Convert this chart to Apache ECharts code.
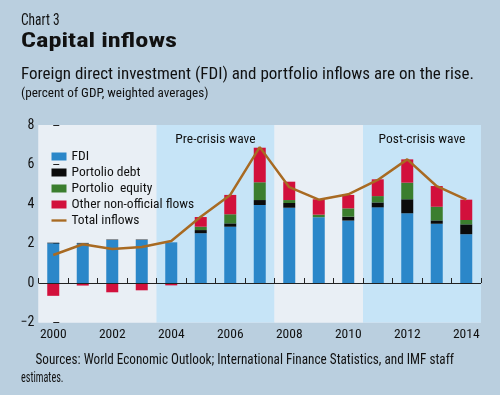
<!DOCTYPE html>
<html>
<head>
<meta charset="utf-8">
<script src="https://cdn.jsdelivr.net/npm/echarts@6/dist/echarts.min.js"></script>
<style>
html,body{margin:0;padding:0;background:#bacfdf;}
#chart{width:500px;height:395px;}
</style>
</head>
<body>
<div id="chart"></div>
<script>
var years = ['2000','2001','2002','2003','2004','2005','2006','2007','2008','2009','2010','2011','2012','2013','2014'];
var fdi = [2.01, 2.00, 2.18, 2.18, 2.06, 2.52, 2.85, 3.95, 3.81, 3.33, 3.16, 3.83, 3.53, 3.00, 2.47];
var portfolioDebt = [0.03, 0.03, 0.02, 0.02, 0.00, 0.16, 0.17, 0.25, 0.24, 0.00, 0.20, 0.25, 0.71, 0.17, 0.50];
var portfolioEquity = [0.00, 0.00, 0.00, 0.00, 0.00, 0.17, 0.46, 0.90, 0.15, 0.13, 0.42, 0.32, 0.84, 0.69, 0.22];
var otherFlows = [-0.65, -0.13, -0.47, -0.37, -0.12, 0.49, 0.98, 1.75, 0.93, 0.78, 0.68, 0.85, 1.18, 1.05, 1.03];
var totalInflows = [1.42, 1.96, 1.72, 1.82, 2.13, 3.35, 4.46, 6.88, 4.85, 4.22, 4.49, 5.22, 6.26, 4.90, 4.22];
var yTicks = [-2, 0, 2, 4, 6, 8];
var waveNames = ['', 'Pre-crisis wave', '', 'Post-crisis wave'];
var waveStart = [-0.5, 3.5, 7.5, 10.5];
var waveEnd = [3.5, 7.5, 10.5, 14.5];

// ---- font detection: prefer a condensed face if one is installed ----
var mctx = document.createElement('canvas').getContext('2d');
function widthOf(font, s) { mctx.font = font; return mctx.measureText(s).width; }
function hasFont(name) {
  var s = 'abcdefghijklmnopqrstuvwxyz ABCDEFGHIJ 0123456789';
  return widthOf("40px monospace", s) !== widthOf("40px '" + name + "', monospace", s) ||
         widthOf("40px serif", s) !== widthOf("40px '" + name + "', serif", s);
}
var BASE = "'Liberation Sans', Arial, sans-serif";
var NARROW = null;
['Liberation Sans Narrow', 'Arial Narrow', 'DejaVu Sans Condensed', 'Roboto Condensed', 'Noto Sans Condensed', 'Open Sans Condensed'].some(function (n) {
  if (hasFont(n)) {
    var t = 'Other non-official flows';
    if (widthOf("40px '" + n + "'", t) < 0.92 * widthOf("40px " + BASE, t)) { NARROW = "'" + n + "', " + BASE; return true; }
  }
  return false;
});
var FONT = NARROW || BASE;
var small = NARROW ? 13.5 : 12.5;   // legend / labels
var legendSize = NARROW ? 13.5 : 12;

// header / footer texts fitted to their measured widths in the reference
function fitText(str, x, y, size, weight, targetW) {
  var font = (weight || 'normal') + ' ' + size + 'px ' + FONT;
  var w = widthOf(font, str);
  return {
    type: 'text', x: x, y: y, scaleX: targetW / w, silent: true,
    style: {text: str, font: font, fill: '#111', align: 'left', verticalAlign: 'middle'}
  };
}

var chart = echarts.init(document.getElementById('chart'), null, {renderer: 'canvas'});

var bandColor = ['#e9eff5', '#c6e4f7'];
var markData = waveNames.map(function (nm, i) {
  return [
    {xAxis: waveStart[i], name: nm, itemStyle: {color: bandColor[i % 2]},
     label: {show: !!nm, formatter: nm}},
    {xAxis: waveEnd[i]}
  ];
});

function barSeries(name, data, color) {
  return {
    name: name, type: 'bar', stack: 'flows', data: data,
    barWidth: 12, z: 3,
    itemStyle: {color: color},
    emphasis: {disabled: true}
  };
}

chart.setOption({
  backgroundColor: '#bacfdf',
  animation: false,
  graphic: [
    fitText('Chart 3', 21, 21, 16, 'normal', 38.6),
    fitText('Capital inflows', 21, 42, 19.5, 'bold', 156),
    fitText('Foreign direct investment (FDI) and portfolio inflows are on the rise.', 21, 74.5, 16, 'normal', 453),
    fitText('(percent of GDP, weighted averages)', 21, 94, 13, 'normal', 187.5),
    fitText('Sources: World Economic Outlook; International Finance Statistics, and IMF staff', 35.5, 360.5, 14, 'normal', 418.5),
    fitText('estimates.', 21, 378.5, 14, 'normal', 42.5)
  ],
  legend: {
    orient: 'vertical', left: 51.5, top: 149.5, padding: 0,
    itemWidth: 15, itemHeight: 8, itemGap: 2,
    textStyle: {fontFamily: FONT, fontSize: legendSize, lineHeight: 13, color: '#111'},
    data: [
      {name: 'FDI', icon: 'rect'},
      {name: 'Portolio debt', icon: 'rect'},
      {name: 'Portolio  equity', icon: 'rect'},
      {name: 'Other non-official flows', icon: 'rect'},
      {name: 'Total inflows', icon: 'path://M0,0 L16,0 L16,2.5 L0,2.5 Z'}
    ],
    selectedMode: false
  },
  grid: {left: 38.5, right: 19, top: 125, bottom: 72.5, show: true, backgroundColor: '#e9eff5', borderWidth: 0, containLabel: false},
  xAxis: [
    {
      type: 'category', data: years, boundaryGap: true,
      axisLine: {show: false},
      axisTick: {show: true, inside: true, length: 5, lineStyle: {color: '#222'}, interval: 0},
      axisLabel: {interval: 1, margin: 5, fontFamily: FONT, fontSize: small, color: '#111'},
      splitLine: {show: false}
    },
    {type: 'value', min: -0.5, max: 14.5, show: false}
  ],
  yAxis: {
    type: 'value', min: -2, max: 8, interval: 2,
    axisLine: {show: false},
    axisTick: {show: true, inside: true, length: 6, lineStyle: {color: '#222'}},
    axisLabel: {margin: 4, fontFamily: FONT, fontSize: 14, color: '#111',
      formatter: function (v) { return yTicks.indexOf(v) >= 0 ? (v < 0 ? '\u2212' + Math.abs(v) : String(v)) : ''; }},
    splitLine: {show: false}
  },
  series: [
    {
      type: 'line', xAxisIndex: 1, data: [], z: 0, silent: true,
      markArea: {
        silent: true, z: 0,
        label: {position: 'insideTop', distance: 8, fontFamily: FONT, fontSize: small, color: '#111'},
        data: markData
      }
    },
    barSeries('FDI', fdi, '#2b87c9'),
    barSeries('Portolio debt', portfolioDebt, '#0b0b0b'),
    barSeries('Portolio  equity', portfolioEquity, '#3b7e2e'),
    barSeries('Other non-official flows', otherFlows, '#d2103c'),
    {
      name: 'Total inflows', type: 'line', data: totalInflows, z: 5,
      symbol: 'none', lineStyle: {color: '#a86a22', width: 2.5}, itemStyle: {color: '#a86a22'},
      emphasis: {disabled: true},
      markLine: {
        silent: true, symbol: 'none', z: 4,
        label: {show: false},
        lineStyle: {color: '#222', width: 1.2, type: 'solid'},
        data: [{yAxis: 0}]
      }
    }
  ]
});
</script>
</body>
</html>
